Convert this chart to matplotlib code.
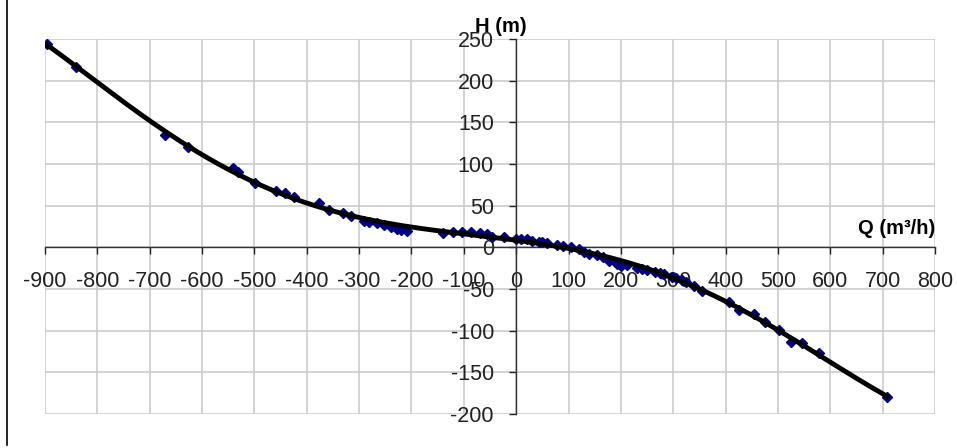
import numpy as np
import matplotlib
matplotlib.use("Agg")
import matplotlib.pyplot as plt
from matplotlib.lines import Line2D

# measured points (Q in m3/h, H in m)
q_pts = [-897, -841, -671, -626, -541, -532, -498, -458, -441, -425,
         -376, -358, -331, -315, -290, -282, -266, -253, -240, -228,
         -220, -209, -139, -120, -103, -86, -70, -56, -46, -24,
         0, 10, 21, 30, 43, 50, 59, 78, 90, 104,
         120, 130, 140, 155, 165, 177, 193, 200, 212, 231,
         240, 250, 266, 275, 282, 298, 305, 317, 325, 340,
         355, 406, 425, 455, 476, 502, 524, 546, 578, 709]
h_pts = [244, 217, 135, 120, 95, 91, 77, 68, 65, 60,
         53, 45, 41, 38, 32, 31, 29, 27, 24, 22,
         21, 20, 17, 19, 19, 19, 17, 16, 12, 13,
         10, 10, 10, 8, 7, 6, 5, 3, 2, 1,
         -2, -5, -8, -9, -12, -16, -20, -22, -21, -25,
         -26, -27, -29, -31, -32, -35, -37, -39, -42, -46,
         -52, -65, -75, -80, -89, -99, -113, -115, -127, -180]

x_ticks = list(range(-900, 801, 100))
y_ticks = list(range(-200, 251, 50))

plt.rcParams['font.family'] = ['Liberation Sans', 'DejaVu Sans']
plt.rcParams['axes.unicode_minus'] = False

fig = plt.figure(figsize=(9.57, 4.48), dpi=100)
ax = fig.add_axes([45 / 957, 34 / 448, 890 / 957, 375 / 448])

# polynomial trend line, like the spreadsheet trendline
coef = np.polyfit(q_pts, h_pts, 5)
qq = np.linspace(min(q_pts), max(q_pts), 400)
ax.plot(q_pts, h_pts, linestyle='none', marker='D', markersize=5,
        color='#000080', zorder=3)
ax.plot(qq, np.polyval(coef, qq), color='black', linewidth=3.5, zorder=4)

ax.set_xlim(-900, 800)
ax.set_ylim(-200, 250)
ax.set_xticks(x_ticks)
ax.set_yticks(y_ticks)
ax.grid(True, color='#cccccc', linewidth=1.2, zorder=0)
for gl in ax.get_xgridlines() + ax.get_ygridlines():
    gl.set_clip_on(False)

ax.spines['left'].set_position(('data', 0))
ax.spines['bottom'].set_position(('data', 0))
ax.spines['top'].set_visible(False)
ax.spines['right'].set_visible(False)
for s in ('left', 'bottom'):
    ax.spines[s].set_color('#333333')
    ax.spines[s].set_linewidth(1)
ax.set_axisbelow(True)

ax.tick_params(axis='x', direction='out', length=5, width=1, pad=12,
               labelsize=15.5, colors='#222222')
ax.tick_params(axis='y', direction='out', length=5, width=1, pad=11,
               labelsize=15.5, colors='#222222')

ax.annotate('H (m)', xy=(0.512, 1.0), xycoords='axes fraction',
            xytext=(0, 2), textcoords='offset points', fontsize=14.5,
            fontweight='bold', ha='center', va='bottom')
ax.annotate('Q (m³/h)', xy=(1.0, 0), xycoords=ax.get_yaxis_transform(),
            xytext=(0, 7), textcoords='offset points', fontsize=14.5,
            fontweight='bold', ha='right', va='bottom')

# stray border line on the left of the picture
fig.add_artist(Line2D([7 / 957, 7 / 957], [3 / 448, 1], color='black',
                      linewidth=1.2, transform=fig.transFigure))

fig.savefig('out.png', dpi=100)
